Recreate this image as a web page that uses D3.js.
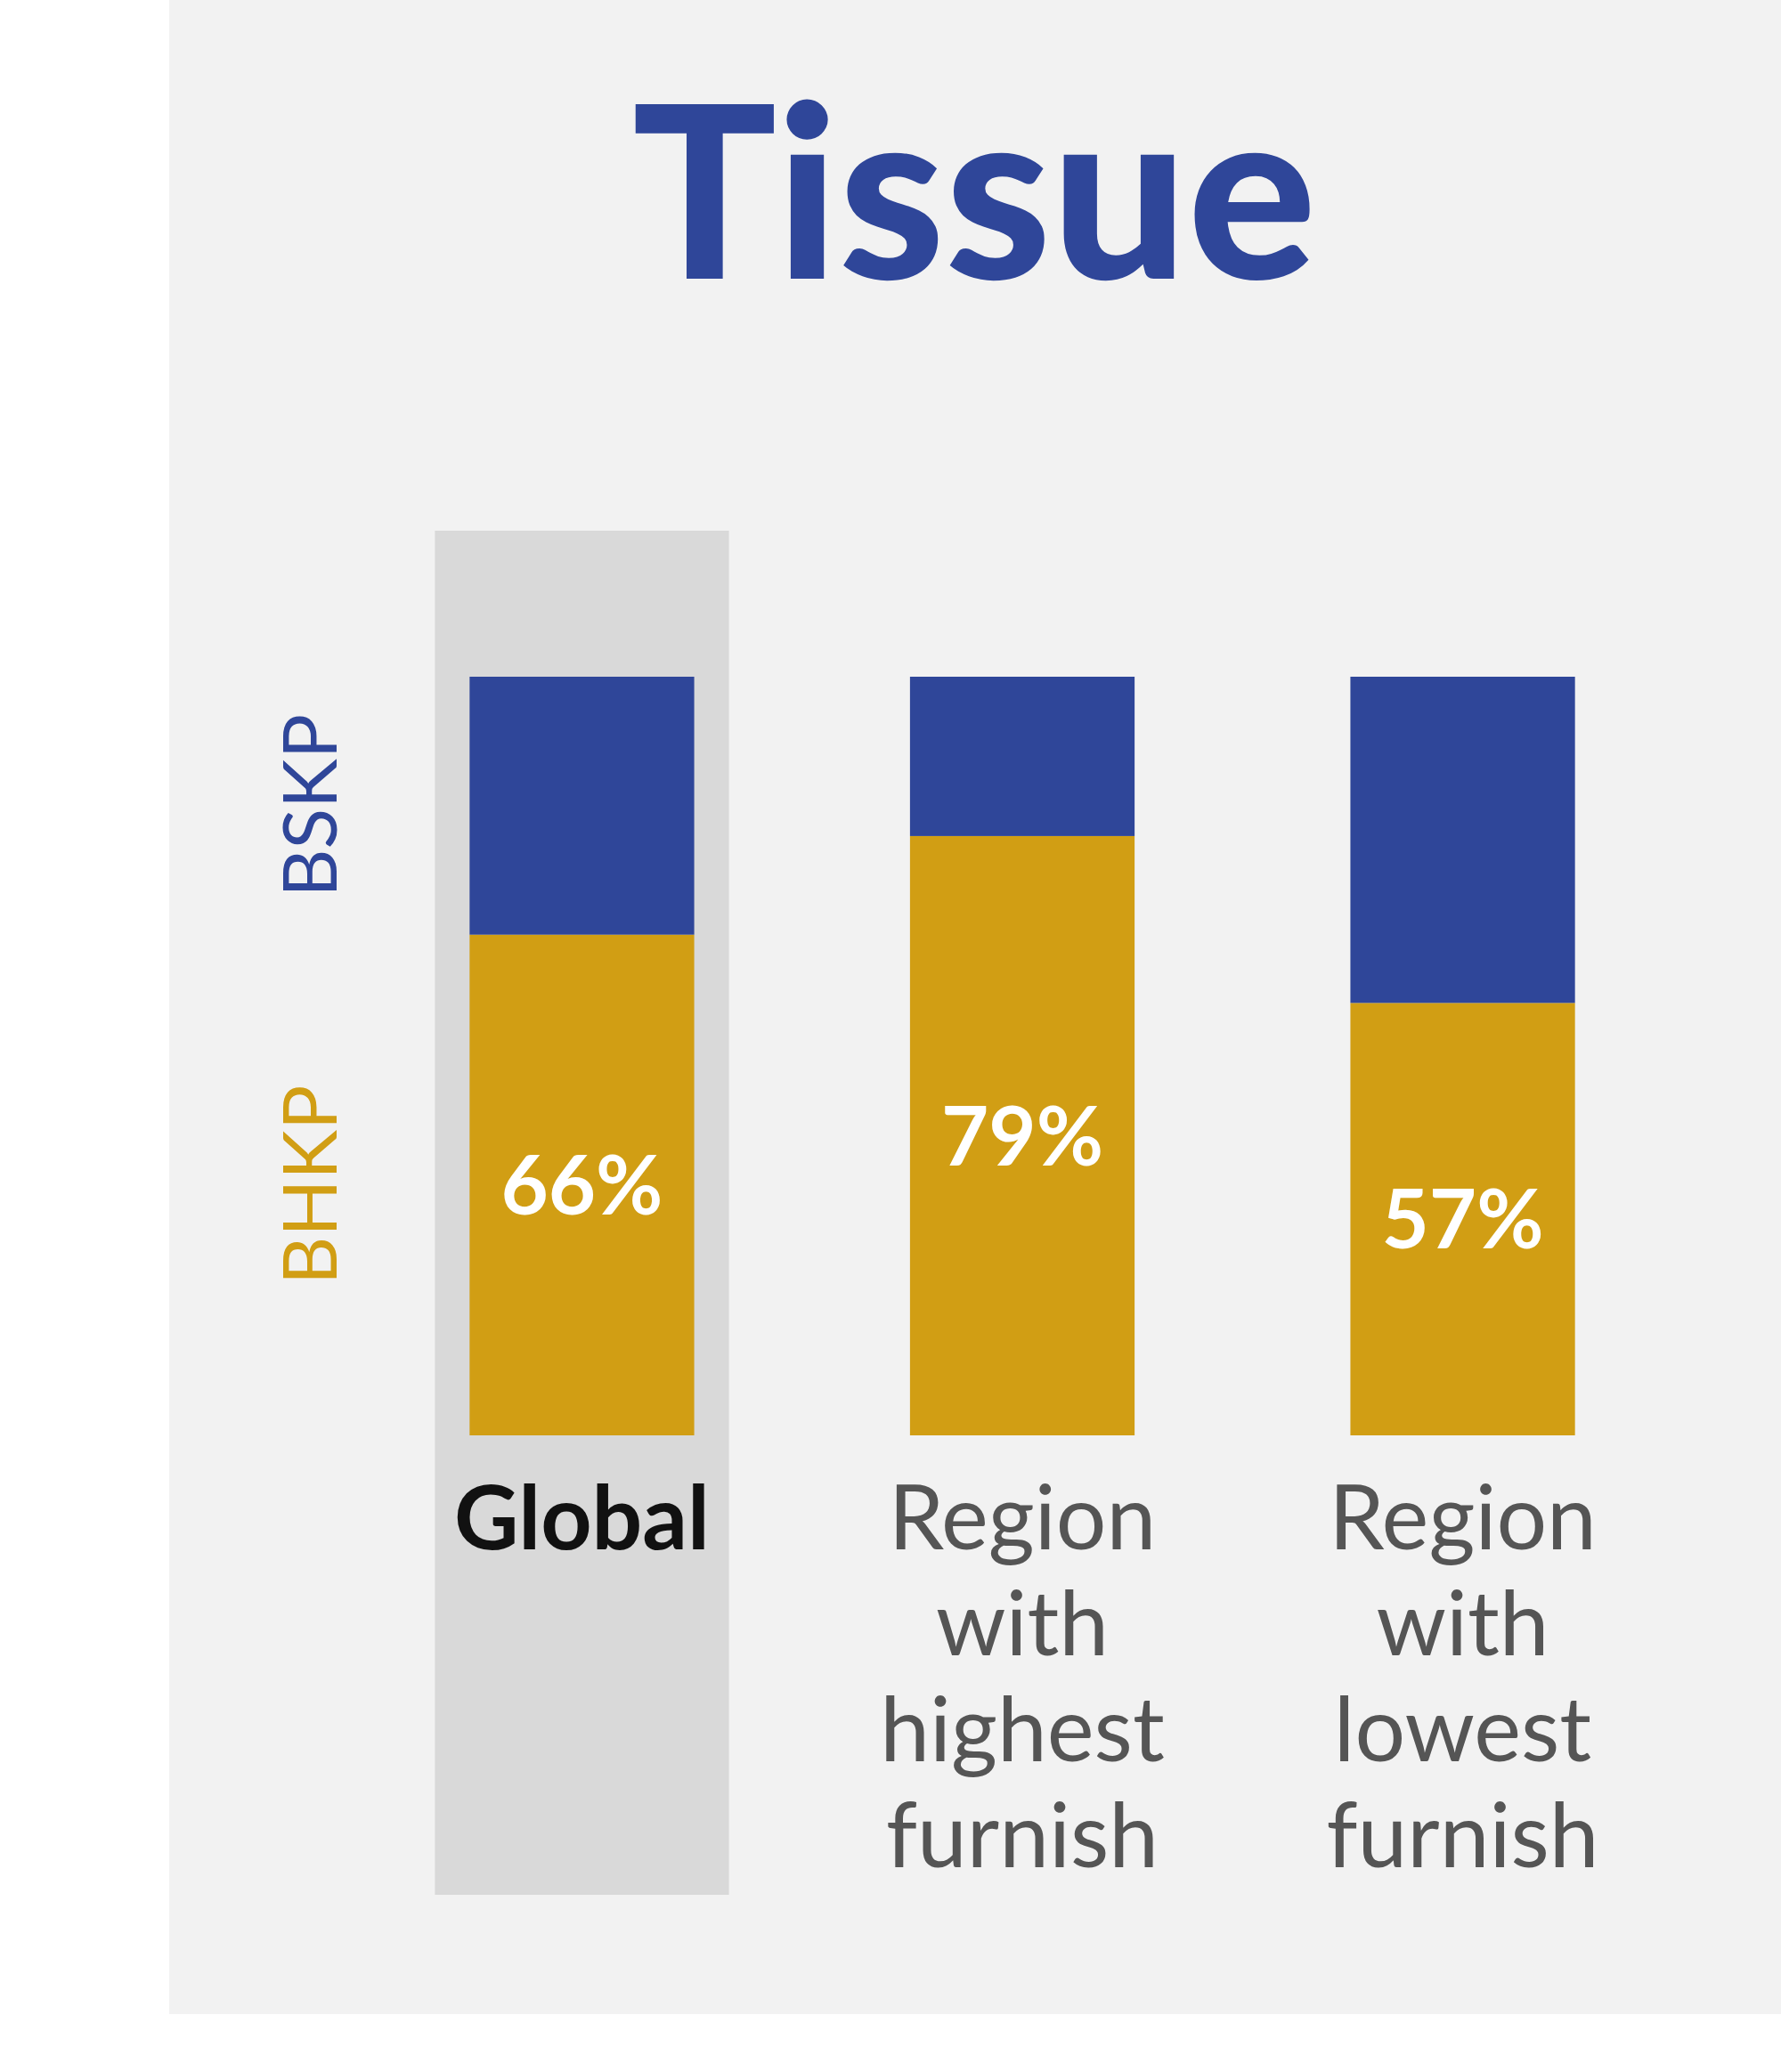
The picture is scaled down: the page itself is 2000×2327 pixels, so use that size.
<!DOCTYPE html><html><head><meta charset="utf-8">
<script src="https://cdn.jsdelivr.net/npm/d3@7"></script>
<style>body{margin:0;background:#fff}</style></head><body>
<svg id="c" width="2000" height="2327"></svg>
<script>
const categories = ["Global", "Region with highest furnish", "Region with lowest furnish"];
const labelLines = [["Global"], ["Region","with","highest","furnish"], ["Region","with","lowest","furnish"]];
const bhkp = [66, 79, 57];
const bskp = bhkp.map(v => 100 - v);
const seriesNames = ["BHKP", "BSKP"];
const blue = "#2f4699", gold = "#d19e14";
const svg = d3.select("#c");
const F = "Lato, 'Noto Sans', sans-serif";
svg.append("rect").attr("x",190).attr("y",0).attr("width",1810).attr("height",2262).attr("fill","#f2f2f2");
svg.append("text").attr("x",1094).attr("y",313).attr("text-anchor","middle").attr("font-family",F)
  .attr("font-weight",900).attr("font-size",270).attr("fill",blue).text("Tissue");
const x = d3.scaleBand().domain(categories).range([468,1828]).paddingInner(0.49).paddingOuter(0.12);
const y = d3.scaleLinear().domain([0,100]).range([1612,760]);
// highlight
svg.append("rect").attr("x",x(categories[0])-39).attr("y",596).attr("width",x.bandwidth()+78).attr("height",1532).attr("fill","#d9d9d9");
const g = svg.append("g");
categories.forEach((c,i)=>{
  g.append("rect").attr("x",x(c)).attr("y",y(bhkp[i])).attr("width",x.bandwidth()).attr("height",y(0)-y(bhkp[i])).attr("fill",gold);
  g.append("rect").attr("x",x(c)).attr("y",y(100)).attr("width",x.bandwidth()).attr("height",y(bhkp[i])-y(100)).attr("fill",blue);
  g.append("text").attr("x",x(c)+x.bandwidth()/2).attr("y",(y(bhkp[i])+y(0))/2).attr("dy","0.36em")
    .attr("text-anchor","middle").attr("font-family",F).attr("font-weight",700).attr("font-size",92).attr("fill","#fff").text(bhkp[i]+"%");
  const t = g.append("text").attr("text-anchor","middle").attr("font-family",F).attr("font-size",100)
    .attr("fill", i===0?"#111":"#555").attr("font-weight", i===0?700:400);
  labelLines[i].forEach((l,j)=>t.append("tspan").attr("x",x(c)+x.bandwidth()/2).attr("y",1740+j*119).text(l));
});
// rotated series labels
[[seriesNames[1], (y(100)+y(bhkp[0]))/2, blue],[seriesNames[0], (y(bhkp[0])+y(0))/2, gold]].forEach(([n,cy,col])=>{
  svg.append("text").attr("transform",`translate(348,${cy}) rotate(-90)`).attr("dy","0.36em").attr("text-anchor","middle")
    .attr("font-family",F).attr("font-size",84).attr("fill",col).text(n);
});
</script></body></html>
